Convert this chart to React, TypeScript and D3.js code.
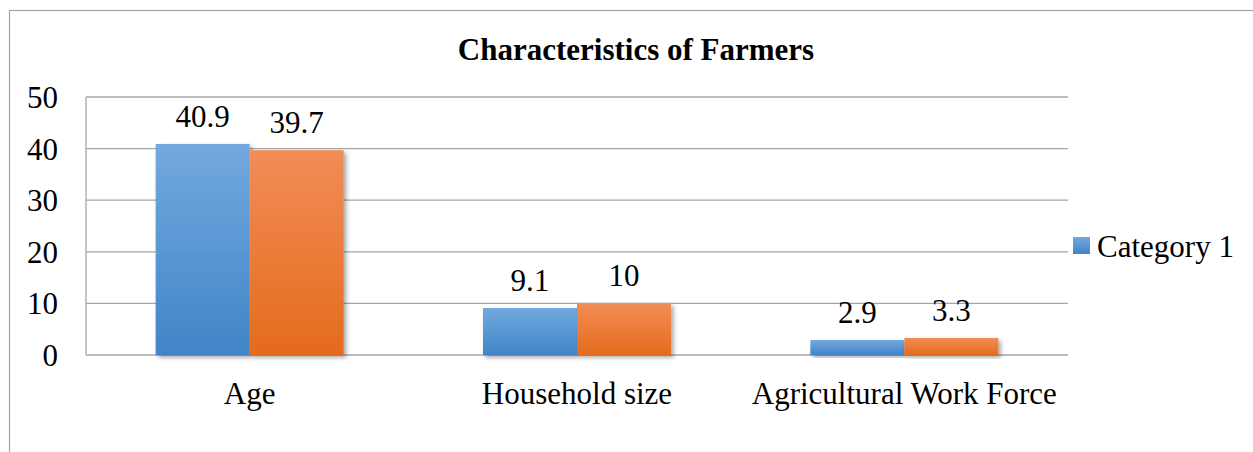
import React from 'react';
import * as d3 from 'd3';

const categories = ['Age', 'Household size', 'Agricultural Work Force'];
const seriesNames = ['Category 1', 'Series 2'];
const seriesA = [40.9, 9.1, 2.9];
const seriesB = [39.7, 10, 3.3];
const yTicks = [0, 10, 20, 30, 40, 50];
const valueLabels = [
  ['40.9', '9.1', '2.9'],
  ['39.7', '10', '3.3'],
];

const W = 1253;
const H = 452;
const plot = { left: 86, right: 1068, top: 97, bottom: 355 };
const font = 'Liberation Serif';

const gradients = [
  { id: 'gBlue', top: '#72a9de', bottom: '#4184c7' },
  { id: 'gOrange', top: '#f18d57', bottom: '#e46b1c' },
];

const App: React.FC = () => {
  const x = d3
    .scaleBand<string>()
    .domain(categories)
    .range([plot.left, plot.right])
    .paddingInner(0.4256)
    .paddingOuter(0.2128);

  const xs = d3.scaleBand<string>().domain(seriesNames).range([0, x.bandwidth()]).padding(0);

  const y = d3.scaleLinear().domain([0, 50]).range([plot.bottom, plot.top]);

  const series = [seriesA, seriesB];

  return (
    <svg width={W} height={H} style={{ position: 'absolute', left: 0, top: 0, background: '#fff' }}>
      <defs>
        {gradients.map((g) => (
          <linearGradient key={g.id} id={g.id} x1="0" y1="0" x2="0" y2="1">
            <stop offset="0%" stopColor={g.top} />
            <stop offset="50%" stopColor={d3.interpolateRgb(g.top, g.bottom)(0.5)} />
            <stop offset="100%" stopColor={g.bottom} />
          </linearGradient>
        ))}
        <filter id="shadow" x="-10%" y="-10%" width="130%" height="130%">
          <feDropShadow dx="2.5" dy="2.5" stdDeviation="2" floodColor="#000" floodOpacity="0.35" />
        </filter>
      </defs>

      {/* outer chart border */}
      <rect x={9.5} y={10.5} width={W + 10} height={H + 10} fill="none" stroke="#a6a6a6" strokeWidth={1.2} />

      {/* title */}
      <text x={636} y={60} textAnchor="middle" fontFamily={font} fontSize={31} fontWeight="bold" fill="#000">
        Characteristics of Farmers
      </text>

      {/* gridlines */}
      {yTicks.map((t) => (
        <line
          key={t}
          x1={plot.left}
          x2={plot.right}
          y1={y(t)}
          y2={y(t)}
          stroke="#a6a6a6"
          strokeWidth={1.3}
        />
      ))}
      <line x1={plot.left} x2={plot.left} y1={plot.top} y2={plot.bottom} stroke="#a6a6a6" strokeWidth={1.3} />

      {/* y tick labels */}
      {yTicks.map((t) => (
        <text key={t} x={58} y={y(t) + 11} textAnchor="end" fontFamily={font} fontSize={31} fill="#000">
          {t}
        </text>
      ))}

      {/* bars */}
      {series.map((vals, si) =>
        vals.map((v, ci) => {
          const bx = (x(categories[ci]) ?? 0) + (xs(seriesNames[si]) ?? 0);
          return (
            <rect
              key={`${si}-${ci}`}
              x={bx}
              y={y(v)}
              width={xs.bandwidth()}
              height={y(0) - y(v)}
              fill={`url(#${gradients[si].id})`}
              filter="url(#shadow)"
            />
          );
        })
      )}

      {/* value labels */}
      {series.map((vals, si) =>
        vals.map((v, ci) => {
          const cx = (x(categories[ci]) ?? 0) + (xs(seriesNames[si]) ?? 0) + xs.bandwidth() / 2;
          return (
            <text
              key={`l${si}-${ci}`}
              x={cx}
              y={y(v) - 17}
              textAnchor="middle"
              fontFamily={font}
              fontSize={31}
              fill="#000"
            >
              {valueLabels[si][ci]}
            </text>
          );
        })
      )}

      {/* category labels */}
      {categories.map((c) => (
        <text
          key={c}
          x={(x(c) ?? 0) + x.bandwidth() / 2}
          y={404}
          textAnchor="middle"
          fontFamily={font}
          fontSize={31}
          fill="#000"
        >
          {c}
        </text>
      ))}

      {/* legend */}
      <rect x={1073} y={237} width={17} height={17} fill="url(#gBlue)" />
      <text x={1097} y={257} fontFamily={font} fontSize={31} fill="#000">
        {seriesNames[0]}
      </text>
    </svg>
  );
};

export default App;
